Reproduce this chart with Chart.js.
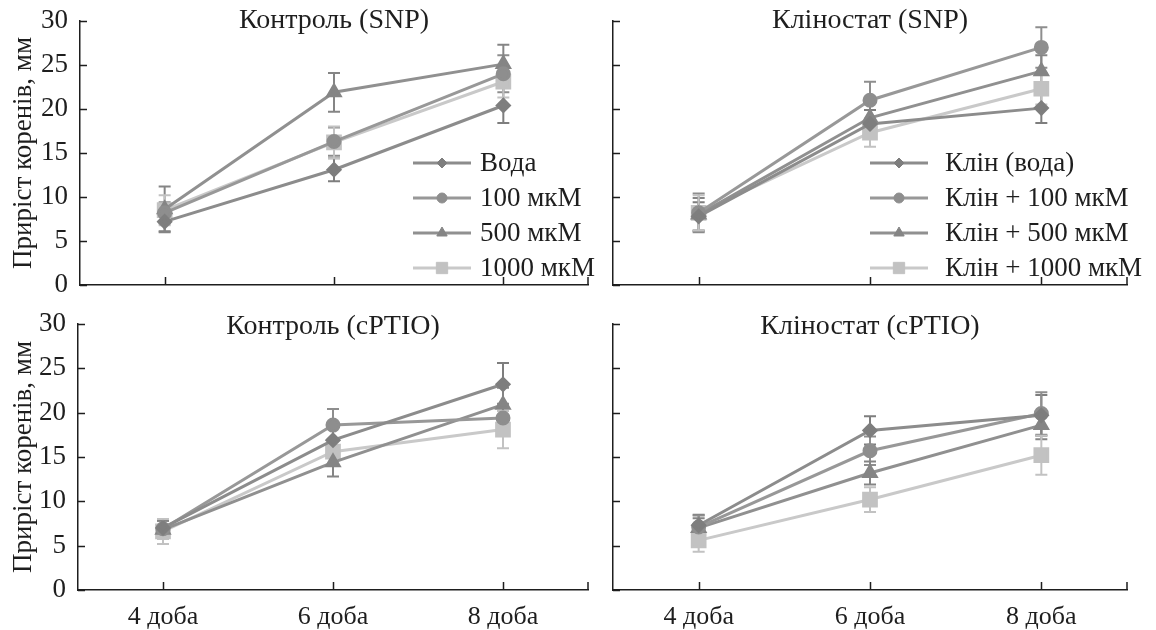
<!DOCTYPE html>
<html>
<head>
<meta charset="utf-8">
<script src="https://cdn.jsdelivr.net/npm/chart.js@4.4.1/dist/chart.umd.min.js"></script>
<style>
  body { margin: 0; background: #fff; }
  #wrap { position: relative; width: 1156px; height: 630px; }
  .panel { position: absolute; }
</style>
</head>
<body>
<div id="wrap">
  <div class="panel" style="left:0;top:0;width:600px;height:300px"><canvas id="c1"></canvas></div>
  <div class="panel" style="left:600px;top:0;width:556px;height:300px"><canvas id="c2"></canvas></div>
  <div class="panel" style="left:0;top:300px;width:600px;height:330px"><canvas id="c3"></canvas></div>
  <div class="panel" style="left:600px;top:300px;width:556px;height:330px"><canvas id="c4"></canvas></div>
</div>
<script>
// категорії та підписи
const days = ['4 доба', '6 доба', '8 доба'];
const namesControl = ['Вода', '100 мкМ', '500 мкМ', '1000 мкМ'];
const namesClino = ['Клін (вода)', 'Клін + 100 мкМ', 'Клін + 500 мкМ', 'Клін + 1000 мкМ'];
const yAxisTitle = 'Приріст коренів, мм';

// дані (вода, 100, 500, 1000 мкМ), значення по днях
const ctrlSNP = [[7.2, 13.1, 20.4], [8.2, 16.3, 24.0], [8.6, 21.9, 25.1], [8.5, 16.2, 23.1]];
const ctrlSNPErr = [[1.1, 1.3, 2.0], [1.2, 1.6, 2.1], [2.6, 2.2, 2.2], [1.7, 1.8, 1.8]];

const clinoSNP = [[7.8, 18.3, 20.1], [8.2, 21.0, 27.0], [8.0, 19.0, 24.3], [8.2, 17.3, 22.3]];
const clinoSNPErr = [[1.6, 1.6, 1.7], [2.2, 2.1, 2.3], [1.9, 1.7, 1.8], [2.0, 1.6, 1.8]];

const ctrlPTIO = [[7.0, 16.9, 23.2], [6.9, 18.6, 19.4], [6.8, 14.4, 20.9], [6.6, 15.6, 18.1]];
const ctrlPTIOErr = [[0.9, 1.5, 2.4], [0.9, 1.8, 1.6], [1.0, 1.6, 1.9], [1.4, 1.4, 2.1]];

const clinoPTIO = [[7.3, 18.0, 19.7], [7.1, 15.7, 19.9], [7.0, 13.2, 18.6], [5.6, 10.2, 15.2]];
const clinoPTIOErr = [[1.2, 1.6, 2.3], [1.3, 1.6, 2.4], [1.1, 1.3, 1.6], [1.3, 1.4, 2.2]];

// стилі серій
const lineColors = ['#8c8c8c', '#989898', '#909090', '#c9c9c9'];
const markColors = ['#7e7e7e', '#8e8e8e', '#858585', '#c2c2c2'];
const markStyles = ['rectRot', 'circle', 'triangle', 'rect'];
const markSizes = [6, 6, 7, 9];

const FONT = "'Liberation Serif', 'Times New Roman', serif";
const INK = '#1e1e1e';

// планки похибок, засічки всередину, заголовок і легенда
const panelDecor = {
  id: 'panelDecor',
  beforeDatasetsDraw(chart) {
    const ctx = chart.ctx;
    const ys = chart.scales.y;
    chart.data.datasets.forEach((ds, i) => {
      const meta = chart.getDatasetMeta(i);
      ctx.save();
      ctx.strokeStyle = markColors[i];
      ctx.lineWidth = 2;
      meta.data.forEach((pt, j) => {
        const e = ds.errors[j];
        const v = ds.data[j];
        const t = ys.getPixelForValue(v + e);
        const b = ys.getPixelForValue(v - e);
        ctx.beginPath();
        ctx.moveTo(pt.x, t); ctx.lineTo(pt.x, b);
        ctx.moveTo(pt.x - 6, t); ctx.lineTo(pt.x + 6, t);
        ctx.moveTo(pt.x - 6, b); ctx.lineTo(pt.x + 6, b);
        ctx.stroke();
      });
      ctx.restore();
    });
  },
  afterDraw(chart, args, opts) {
    const ctx = chart.ctx;
    const a = chart.chartArea;
    const xs = chart.scales.x, ys = chart.scales.y;
    ctx.save();
    ctx.strokeStyle = INK;
    ctx.lineWidth = 1.5;
    ctx.beginPath();
    ys.ticks.forEach(t => {
      const y = Math.round(ys.getPixelForValue(t.value)) + 0.5;
      ctx.moveTo(a.left, y); ctx.lineTo(a.left + 7, y);
    });
    xs.ticks.forEach((t, i) => {
      const x = Math.round(xs.getPixelForTick(i)) + 0.5;
      ctx.moveTo(x, a.bottom); ctx.lineTo(x, a.bottom - 8);
    });
    ctx.moveTo(a.right, a.bottom); ctx.lineTo(a.right, a.bottom - 8);
    ctx.stroke();

    // заголовок панелі
    ctx.fillStyle = INK;
    ctx.font = '28px ' + FONT;
    ctx.textAlign = 'center';
    ctx.textBaseline = 'middle';
    ctx.fillText(opts.title, (a.left + a.right) / 2, a.top + opts.titleDy);

    // легенда
    if (opts.legend) {
      const lg = opts.legend;
      ctx.font = '27px ' + FONT;
      chart.data.datasets.forEach((ds, i) => {
        const y = lg.y + i * lg.gap;
        ctx.strokeStyle = lineColors[i];
        ctx.lineWidth = 3;
        ctx.beginPath();
        ctx.moveTo(lg.x, y); ctx.lineTo(lg.x + 58, y);
        ctx.stroke();
        ctx.fillStyle = markColors[i];
        ctx.strokeStyle = markColors[i];
        ctx.lineWidth = 1;
        Chart.helpers.drawPoint(ctx, {pointStyle: markStyles[i], radius: markSizes[i] - 1, rotation: 0, borderWidth: 1}, lg.x + 29, y);
        ctx.fillStyle = INK;
        ctx.textAlign = 'left';
        ctx.textBaseline = 'middle';
        ctx.fillText(ds.label, lg.x + lg.textDx, y + 1);
      });
    }
    ctx.restore();
  }
};

function makePanel(id, title, names, values, errs, o) {
  const datasets = values.map((vals, i) => ({
    label: names[i],
    data: vals,
    errors: errs[i],
    borderColor: lineColors[i],
    backgroundColor: markColors[i],
    pointBackgroundColor: markColors[i],
    pointBorderColor: markColors[i],
    pointStyle: markStyles[i],
    pointRadius: markSizes[i],
    borderWidth: 3,
    tension: 0
  }));

  return new Chart(document.getElementById(id), {
    type: 'line',
    data: { labels: days, datasets: datasets },
    options: {
      responsive: true,
      maintainAspectRatio: false,
      animation: false,
      layout: { padding: { top: o.padTop, right: o.padRight, left: 0, bottom: 0 } },
      plugins: {
        legend: { display: false },
        tooltip: { enabled: false },
        panelDecor: { title: title, titleDy: o.titleDy, legend: o.legend }
      },
      scales: {
        x: {
          offset: true,
          grid: { display: false, drawTicks: false },
          border: { display: true, color: INK, width: 1.5 },
          ticks: { display: o.xLabels, padding: 12, color: INK, font: { family: FONT, size: 26 } },
          afterFit: s => { s.height = o.xHeight; s.paddingLeft = 0; s.paddingRight = 0; }
        },
        y: {
          min: 0,
          max: 30,
          grid: { display: false, drawTicks: false },
          border: { display: true, color: INK, width: 1.5 },
          ticks: { display: o.yLabels, stepSize: 5, padding: 12, color: INK, font: { family: FONT, size: 27 } },
          title: {
            display: o.yLabels,
            text: yAxisTitle,
            color: INK,
            font: { family: FONT, size: 27 },
            padding: { top: 8, bottom: 0 }
          },
          afterFit: s => { s.width = o.yWidth; s.paddingTop = 0; s.paddingBottom = 0; }
        }
      }
    },
    plugins: [panelDecor]
  });
}

makePanel('c1', 'Контроль (SNP)', namesControl, ctrlSNP, ctrlSNPErr,
  { padTop: 21, padRight: 8, yWidth: 80, xHeight: 15, xLabels: false, yLabels: true, titleDy: 0,
    legend: { x: 413, y: 163, gap: 35, textDx: 67 } });
makePanel('c2', 'Клiностат (SNP)', namesClino, clinoSNP, clinoSNPErr,
  { padTop: 21, padRight: 29, yWidth: 13, xHeight: 15, xLabels: false, yLabels: false, titleDy: 0,
    legend: { x: 270, y: 163, gap: 35, textDx: 75 } });
makePanel('c3', 'Контроль (cPTIO)', namesControl, ctrlPTIO, ctrlPTIOErr,
  { padTop: 24, padRight: 12, yWidth: 78, xHeight: 40, xLabels: true, yLabels: true, titleDy: 3, legend: null });
makePanel('c4', 'Клiностат (cPTIO)', namesClino, clinoPTIO, clinoPTIOErr,
  { padTop: 24, padRight: 29, yWidth: 13, xHeight: 40, xLabels: true, yLabels: false, titleDy: 3, legend: null });
</script>
</body>
</html>
